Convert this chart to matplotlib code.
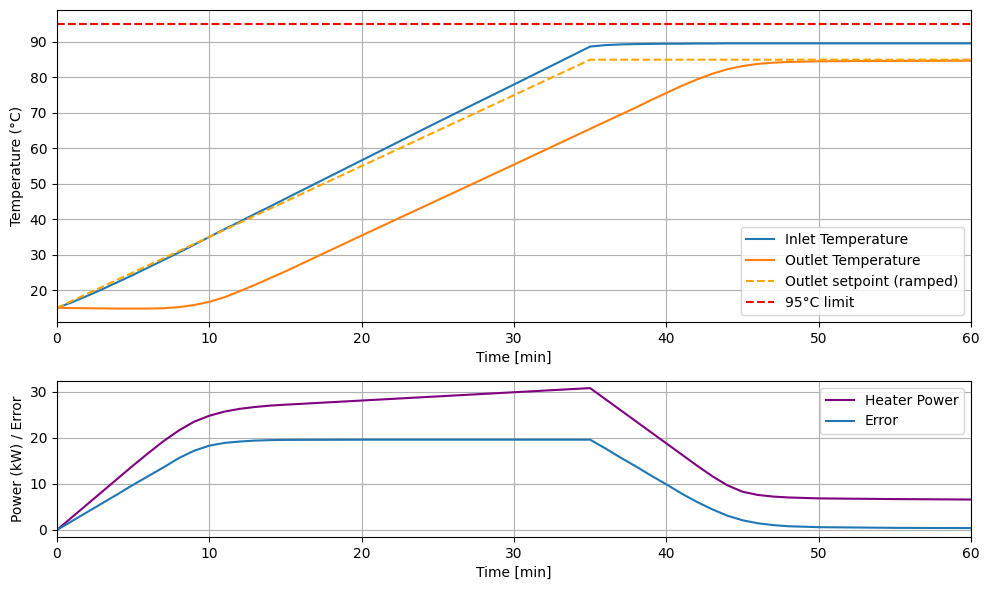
import numpy as np
import matplotlib
matplotlib.use("Agg")
import matplotlib.pyplot as plt

# time samples [min]
t_min = [0, 1, 2, 3, 4, 5, 6, 7, 8, 9, 10, 11, 12, 13, 14, 15, 20, 25, 30, 35,
         36, 37, 38, 39, 40, 41, 42, 43, 44, 45, 46, 47, 48, 50, 55, 60]

# temperatures (degC)
inlet_temp = [15.0, 16.6, 18.4, 20.3, 22.3, 24.3, 26.4, 28.5, 30.6, 32.8, 35.0,
              37.2, 39.3, 41.5, 43.6, 45.8, 56.6, 67.4, 78.0, 88.7,
              89.1, 89.3, 89.4, 89.45, 89.5, 89.5, 89.55, 89.55, 89.6, 89.6,
              89.6, 89.6, 89.6, 89.6, 89.6, 89.6]
outlet_temp = [15.0, 14.95, 14.9, 14.85, 14.8, 14.8, 14.8, 14.9, 15.2, 15.8, 16.7,
               18.0, 19.7, 21.5, 23.4, 25.3, 35.4, 45.4, 55.4, 65.5,
               67.5, 69.5, 71.5, 73.6, 75.6, 77.6, 79.4, 81.0, 82.3, 83.2,
               83.8, 84.15, 84.35, 84.55, 84.65, 84.7]
setpoint = [15, 17, 19, 21, 23, 25, 27, 29, 31, 33, 35, 37, 39, 41, 43, 45, 55, 65, 75, 85,
            85, 85, 85, 85, 85, 85, 85, 85, 85, 85, 85, 85, 85, 85, 85, 85]
temp_limit = 95

# heater power (kW) and error
heater_power = [0.0, 2.8, 5.6, 8.4, 11.2, 14.0, 16.7, 19.3, 21.6, 23.5, 24.8,
                25.7, 26.3, 26.7, 27.0, 27.2, 28.1, 29.0, 29.9, 30.8,
                28.4, 26.0, 23.6, 21.2, 18.8, 16.4, 14.0, 11.7, 9.7, 8.3,
                7.6, 7.25, 7.05, 6.85, 6.7, 6.6]
error = [0.0, 1.95, 3.9, 5.85, 7.8, 9.8, 11.7, 13.6, 15.6, 17.2, 18.3,
         18.9, 19.2, 19.4, 19.5, 19.55, 19.6, 19.6, 19.6, 19.6,
         17.7, 15.7, 13.8, 11.8, 9.9, 7.9, 6.1, 4.5, 3.1, 2.1,
         1.45, 1.05, 0.8, 0.6, 0.45, 0.4]

fig, (ax1, ax2) = plt.subplots(2, 1, figsize=(9.89, 5.9), dpi=100,
                               gridspec_kw={"height_ratios": [2, 1]})
fig.subplots_adjust(left=0.0576, right=0.9818, top=0.983, bottom=0.0898, hspace=0.252)

ax1.plot(t_min, inlet_temp, label="Inlet Temperature")
ax1.plot(t_min, outlet_temp, label="Outlet Temperature")
ax1.plot(t_min, setpoint, "--", color="orange", label="Outlet setpoint (ramped)")
ax1.axhline(temp_limit, color="r", linestyle="--", label="95°C limit")
ax1.set_xlim(0, 60)
ax1.set_ylim(11, 99)
ax1.set_xlabel("Time [min]")
ax1.set_ylabel("Temperature (°C)")
ax1.legend(loc="lower right")
ax1.grid(True)

ax2.plot(t_min, heater_power, color="purple", label="Heater Power")
ax2.plot(t_min, error, label="Error")
ax2.set_xlim(0, 60)
ax2.set_xlabel("Time [min]")
ax2.set_ylabel("Power (kW) / Error")
ax2.legend(loc="upper right")
ax2.grid(True)

plt.savefig("out.png")
